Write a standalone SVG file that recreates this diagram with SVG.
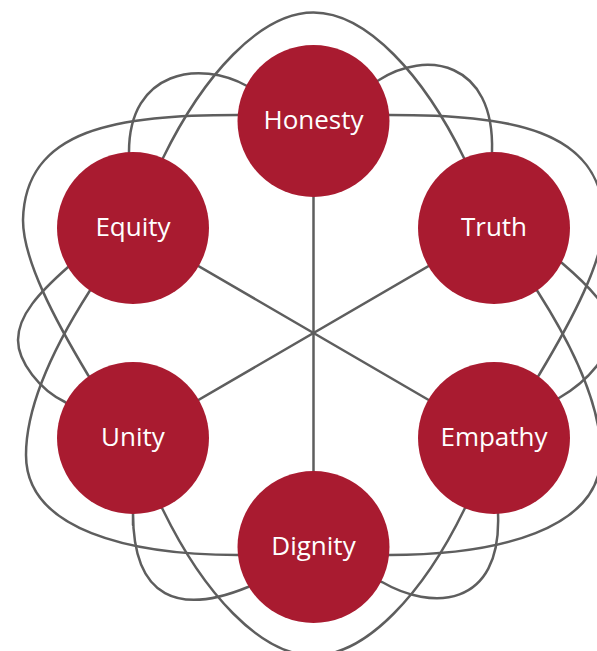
<svg xmlns="http://www.w3.org/2000/svg" width="597" height="651" viewBox="0 0 597 651">
<style>
.c{fill:none;stroke:#5e5e5e;stroke-width:2.5;stroke-linecap:round}
.n{fill:#a91b30}
.t{fill:#ffffff;font-family:"Open Sans","Noto Sans","Liberation Sans",sans-serif;font-size:26px;text-anchor:middle}
</style>
<rect width="597" height="651" fill="#ffffff"/>
<g id="connectors">
<line class="c" x1="313.5" y1="121" x2="313.5" y2="547"/>
<line class="c" x1="133" y1="228" x2="494" y2="438"/>
<line class="c" x1="494" y1="228" x2="133" y2="438"/>
<path class="c" d="M75,261 L67,268 C40,292 18,315 18,340 C18,362 40,390 65,402 L80,414"/>
<path class="c" d="M246,115 L238,115 C118,115 25,128 23,220 C23,260 55,320 88,375 L95,385"/>
<path class="c" d="M95,283 L89,292 C59,339 26,400 26,455 C26,530 130,555 238,555 L250,555"/>
<path class="c" d="M129,165 L129,152 C129,70 200,60 247,86 L260,92"/>
<path class="c" d="M133,525 L133,513 C133,600 180,615 248,587 L262,580"/>
<path class="c" d="M158,168 L163,158 C203,76 260,12.5 313.5,12.5 C367,12.5 424,76 464,158 L469,168"/>
<path class="c" d="M158,500 L163,510 C203,592 260,655.5 313.5,655.5 C367,655.5 424,592 464,510 L469,500"/>
<path class="c" d="M492,165 L492,152 C495,60 425,50 379,80 L366,88"/>
<path class="c" d="M497,500 L498,513 C502,610 430,610 382,582 L368,576"/>
<path class="c" d="M552,256 L562,263 C590,287 612,310 612,330 C612,352 590,380 559,398 L547,408"/>
<path class="c" d="M381,115 L389,115 C509,115 602,128 604,220 C604,260 572,320 539,375 L532,385"/>
<path class="c" d="M532,283 L538,292 C568,339 601,400 601,455 C601,530 497,555 389,555 L377,555"/>
</g>
<g id="honesty"><circle class="n" cx="313.5" cy="121" r="76"/><text class="t" x="313.5" y="129">Honesty</text></g>
<g id="truth"><circle class="n" cx="494" cy="228" r="76"/><text class="t" x="494" y="236">Truth</text></g>
<g id="empathy"><circle class="n" cx="494" cy="438" r="76"/><text class="t" x="494" y="446">Empathy</text></g>
<g id="dignity"><circle class="n" cx="313.5" cy="547" r="76"/><text class="t" x="313.5" y="555">Dignity</text></g>
<g id="unity"><circle class="n" cx="133" cy="438" r="76"/><text class="t" x="133" y="446">Unity</text></g>
<g id="equity"><circle class="n" cx="133" cy="228" r="76"/><text class="t" x="133" y="236">Equity</text></g>
</svg>
